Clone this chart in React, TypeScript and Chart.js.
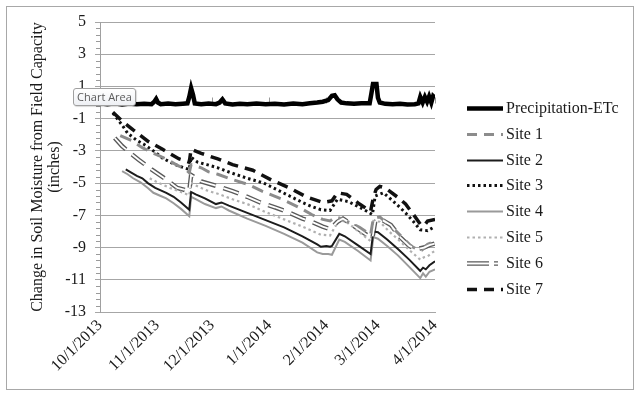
import React, { useEffect, useRef } from "react";
import { Chart, registerables } from "chart.js";

Chart.register(...registerables);

// x values are days since 10/1/2013
const monthDays = [0, 31, 61, 92, 123, 151, 182];
const monthLabels = ["10/1/2013", "11/1/2013", "12/1/2013", "1/1/2014", "2/1/2014", "3/1/2014", "4/1/2014"];
const seriesNames = ["Precipitation-ETc", "Site 1", "Site 2", "Site 3", "Site 4", "Site 5", "Site 6", "Site 7"];
const yTitle = ["Change in Soil Moisture from Field Capacity", "(inches)"];

const precipEtc: [number, number][] = [
  [0, -0.05], [4, -0.1], [8, -0.05], [12, -0.12], [16, -0.06], [20, -0.1], [24, -0.08], [28, -0.1],
  [29.5, 0.05], [30.5, 0.22], [31.5, 0.0], [33, -0.1], [37, -0.06], [41, -0.1], [45, -0.07], [47.5, -0.05],
  [48.5, 0.35], [49.5, 0.9], [50.5, 0.5], [51.5, -0.05], [55, -0.1], [59, -0.06], [63, -0.1], [65, 0.0],
  [66.5, 0.2], [68, -0.05], [72, -0.12], [76, -0.08], [80, -0.1], [85, -0.06], [90, -0.1], [95, -0.07],
  [100, -0.12], [105, -0.06], [110, -0.1], [114, -0.05], [118, 0.0], [121, 0.05], [124, 0.15], [126, 0.42],
  [127.5, 0.45], [129, 0.2], [131, 0.0], [134, -0.05], [138, -0.08], [142, -0.05], [146.5, -0.05],
  [147.5, 0.6], [148.3, 1.15], [150.2, 1.15], [151, 0.3], [152, 0.0], [155, -0.08], [159, -0.1],
  [163, -0.08], [167, -0.12], [171, -0.1], [173, -0.05], [174, 0.35], [175.3, 0.0], [176.5, 0.35],
  [177.7, 0.05], [178.8, 0.38], [180, 0.0], [181, 0.4], [182, 0.3],
];

const site1: [number, number][] = [
  [11, -2.05], [17, -2.35], [23, -2.8], [29, -3.15], [36, -3.5], [42, -3.9], [46, -4.1], [48.5, -4.35],
  [49.5, -3.85], [55, -4.05], [59, -4.3], [64, -4.45], [71, -4.75], [81, -5.1], [88, -5.5], [99, -6.0],
  [108, -6.5], [115, -6.95], [121, -7.25], [125, -7.35], [128, -7.1], [131, -7.2], [141, -7.75],
  [147, -8.2], [148.5, -7.2], [152, -7.1], [156, -7.5], [161, -8.0], [165, -8.45], [169, -8.9],
  [172, -9.1], [175, -9.15], [178, -8.8], [182, -8.6],
];

const site2: [number, number][] = [
  [14, -4.15], [17, -4.35], [20, -4.55], [23, -4.7], [26, -5.0], [30, -5.3], [33, -5.45], [36, -5.6],
  [40, -5.85], [44, -6.2], [48.5, -6.65], [49.5, -5.55], [52, -5.7], [57, -5.95], [63, -6.3], [66, -6.2],
  [70, -6.4], [80, -6.85], [90, -7.3], [100, -7.75], [110, -8.3], [118, -8.8], [120, -8.95], [123, -8.9],
  [125, -8.95], [126, -8.9], [130, -8.15], [133, -8.3], [140, -8.85], [147, -9.4], [148.5, -8.0],
  [151, -8.05], [156, -8.5], [162, -9.1], [168, -9.75], [174, -10.45], [175.5, -10.25], [177, -10.35],
  [179, -10.1], [182, -9.85],
];

const site3: [number, number][] = [
  [7, -0.65], [10, -1.1], [12, -1.4], [15, -1.9], [20, -2.35], [24, -2.6], [29, -3.0], [34, -3.45],
  [39, -3.75], [43, -3.95], [48.5, -4.15], [49.5, -3.4], [53, -3.7], [58, -3.85], [64, -4.05], [71, -4.35],
  [80, -4.7], [89, -5.0], [96, -5.4], [103, -5.8], [110, -6.2], [115, -6.45], [120, -6.65], [125, -6.7],
  [129, -6.0], [135, -6.15], [141, -6.5], [145, -6.75], [148, -6.95], [149.5, -5.8], [154, -5.6],
  [158, -6.0], [161, -6.3], [166, -6.85], [170, -7.35], [174, -7.9], [178, -7.95], [182, -7.7],
];

const site4: [number, number][] = [
  [12, -4.25], [15, -4.45], [18, -4.7], [22, -4.95], [26, -5.3], [29, -5.6], [33, -5.8], [36, -5.95],
  [40, -6.25], [44, -6.6], [48.5, -7.05], [49.5, -5.85], [52, -6.0], [57, -6.3], [63, -6.55], [66, -6.45],
  [70, -6.7], [80, -7.2], [90, -7.65], [100, -8.15], [110, -8.7], [118, -9.3], [121, -9.4], [124, -9.4],
  [126, -9.45], [130, -8.5], [133, -8.65], [140, -9.2], [147, -9.8], [148.5, -8.35], [151, -8.45],
  [156, -8.9], [162, -9.5], [168, -10.2], [174, -10.9], [175.5, -10.6], [177, -10.8], [179, -10.5],
  [182, -10.35],
];

const site5: [number, number][] = [
  [27, -4.7], [32, -5.0], [38, -5.3], [43, -5.5], [48.5, -5.75], [49.5, -5.0], [53, -5.2], [58, -5.45],
  [65, -5.7], [72, -6.0], [80, -6.3], [90, -6.8], [100, -7.25], [110, -7.7], [120, -8.2], [125, -8.25],
  [130, -7.25], [135, -7.5], [141, -8.05], [147, -8.6], [148.5, -7.35], [152, -7.4], [157, -8.0],
  [163, -8.6], [168, -9.15], [174, -9.75], [176, -9.6], [178, -9.55], [180, -9.35], [182, -9.2],
];

const site6: [number, number][] = [
  [8, -2.2], [12, -2.7], [16, -3.1], [21, -3.55], [28, -4.15], [35, -4.7], [42, -5.3], [48.5, -5.5],
  [49.5, -4.5], [55, -4.9], [64, -5.2], [72, -5.5], [80, -5.85], [87, -6.2], [95, -6.5], [101, -6.75],
  [110, -7.2], [115, -7.4], [121, -7.7], [125, -7.85], [129, -7.4], [132, -7.2], [139, -7.75],
  [146, -8.3], [148, -8.4], [149.5, -7.4], [152, -7.2], [158, -7.6], [163, -8.35], [168, -8.9],
  [172, -9.1], [176, -9.0], [179, -8.85], [182, -8.75],
];

const site7: [number, number][] = [
  [7, -0.6], [12, -1.15], [18, -1.7], [26, -2.4], [34, -2.9], [43, -3.5], [48.5, -3.7], [49.5, -2.9],
  [55, -3.15], [64, -3.5], [72, -3.85], [83, -4.2], [93, -4.8], [103, -5.3], [112, -5.85], [121, -6.2],
  [126, -6.1], [129, -5.6], [134, -5.7], [141, -6.3], [147, -6.75], [148.5, -5.9], [150, -5.4],
  [152, -5.2], [155, -5.3], [162, -5.9], [166, -6.3], [170, -6.9], [174, -7.55], [176, -7.65],
  [178, -7.35], [182, -7.25],
];

const SERIF = "'Liberation Serif', 'Times New Roman', serif";

const toPts = (a: [number, number][]) => a.map(([x, y]) => ({ x, y }));

const extrasPlugin = {
  id: "extras",
  beforeDatasetsDraw(chart: any) {
    const { ctx, scales } = chart;
    const x = scales.x;
    const y = scales.y;
    ctx.save();
    ctx.strokeStyle = "#9a9a9a";
    ctx.lineWidth = 1;
    // horizontal axis crossing at zero: its tick marks
    const y0 = Math.round(y.getPixelForValue(0)) + 0.5;
    monthDays.forEach((d) => {
      const px = Math.round(x.getPixelForValue(d)) + 0.5;
      ctx.beginPath();
      ctx.moveTo(px, y0 - 6);
      ctx.lineTo(px, y0);
      ctx.stroke();
    });
    // minor ticks on the vertical axis
    for (let k = 0; k <= 45; k++) {
      if (k % 5 === 0) continue;
      const v = -13 + k * 0.4;
      const py = Math.round(y.getPixelForValue(v)) + 0.5;
      ctx.beginPath();
      ctx.moveTo(x.left - 4, py);
      ctx.lineTo(x.left, py);
      ctx.stroke();
    }
    ctx.restore();
  },
  afterDraw(chart: any) {
    const { ctx } = chart;
    const ds = chart.data.datasets;
    const x0 = 467;
    const x1 = 503;
    ctx.save();
    seriesNames.forEach((name, i) => {
      const cy = Math.round(108 + i * 25.8) + 0.5;
      const styles = i === 6 ? [ds[6], ds[8]] : [ds[i]];
      styles.forEach((d: any) => {
        ctx.beginPath();
        ctx.strokeStyle = d.borderColor;
        ctx.lineWidth = d.borderWidth;
        ctx.setLineDash(d.legendDash || d.borderDash || []);
        ctx.lineCap = "butt";
        ctx.moveTo(x0, cy);
        ctx.lineTo(x1, cy);
        ctx.stroke();
      });
      ctx.setLineDash([]);
      ctx.fillStyle = "#1a1a1a";
      ctx.font = `16px ${SERIF}`;
      ctx.textBaseline = "middle";
      ctx.textAlign = "left";
      ctx.fillText(name, 506, cy);
    });
    ctx.restore();
  },
};

export default function App() {
  const ref = useRef<HTMLCanvasElement>(null);

  useEffect(() => {
    if (!ref.current) return;
    const line = (label: string, data: [number, number][], color: string, width: number, dash: number[], extra: any = {}) => ({
      label,
      data: toPts(data),
      borderColor: color,
      backgroundColor: color,
      borderWidth: width,
      borderDash: dash,
      pointRadius: 0,
      pointHoverRadius: 0,
      tension: 0,
      fill: false,
      order: 1,
      ...extra,
    });
    const chart = new Chart(ref.current, {
      type: "line",
      data: {
        datasets: [
          line(seriesNames[0], precipEtc, "#000000", 4.5, []),
          line(seriesNames[1], site1, "#8c8c8c", 3, [12, 7], { legendDash: [10, 7] }),
          line(seriesNames[2], site2, "#1c1c1c", 2, []),
          line(seriesNames[3], site3, "#111111", 3, [2.5, 3]),
          line(seriesNames[4], site4, "#9a9a9a", 2, []),
          line(seriesNames[5], site5, "#b0b0b0", 2.2, [2.5, 3]),
          line(seriesNames[6], site6, "#5a5a5a", 4.5, [16, 8], { legendDash: [22, 5, 4, 10] }),
          line(seriesNames[7], site7, "#111111", 3.5, [11, 7], { legendDash: [10, 7] }),
          line("Site 6 inner", site6, "#ffffff", 1.8, [16, 8], { order: 0, legendDash: [22, 5, 4, 10] }),
        ],
      },
      options: {
        animation: false,
        responsive: false,
        devicePixelRatio: 1,
        events: [],
        layout: { padding: { left: 0, right: 205, top: 22, bottom: 0 } },
        plugins: {
          legend: { display: false },
          tooltip: { enabled: false },
          title: { display: false },
        },
        scales: {
          x: {
            type: "linear",
            min: 0,
            max: 182,
            afterBuildTicks: (s: any) => {
              s.ticks = monthDays.map((v) => ({ value: v }));
            },
            afterFit: (s: any) => {
              s.height = 84;
            },
            ticks: {
              autoSkip: false,
              maxRotation: 45,
              minRotation: 45,
              padding: 4,
              color: "#1a1a1a",
              font: { family: SERIF, size: 16 },
              callback: (v: any) => {
                const i = monthDays.indexOf(Number(v));
                return i >= 0 ? monthLabels[i] : "";
              },
            },
            grid: { display: false, drawTicks: false },
            border: { display: true, color: "#a6a6a6" },
          },
          y: {
            min: -13,
            max: 5,
            afterFit: (s: any) => {
              s.width = 100;
            },
            ticks: {
              stepSize: 2,
              padding: 9,
              color: "#1a1a1a",
              font: { family: SERIF, size: 16 },
            },
            grid: { color: "#a6a6a6", lineWidth: 1, drawTicks: true, tickLength: 5 },
            border: { display: true, color: "#a0a0a0" },
            title: {
              display: true,
              text: yTitle,
              color: "#1a1a1a",
              font: { family: SERIF, size: 16, lineHeight: 1.07 },
              padding: { top: 29, bottom: 0 },
            },
          },
        },
      },
      plugins: [extrasPlugin],
    } as any);
    return () => chart.destroy();
  }, []);

  return (
    <div style={{ position: "fixed", left: 0, top: 0, width: 640, height: 396, background: "#ffffff" }}>
      <canvas ref={ref} width={640} height={396} style={{ display: "block" }} />
      <div
        style={{
          position: "absolute",
          left: 6,
          top: 6,
          width: 626,
          height: 382,
          border: "1px solid #a8a8a8",
          pointerEvents: "none",
        }}
      />
      <div
        style={{
          position: "absolute",
          left: 73,
          top: 88,
          width: 61,
          height: 16,
          border: "1px solid #a0a0a0",
          borderRadius: 3,
          background: "linear-gradient(#ffffff, #eef0f4)",
          color: "#5a5a5a",
          fontFamily: "'Open Sans', 'Noto Sans', sans-serif",
          fontSize: 11,
          lineHeight: "16px",
          textAlign: "center",
          whiteSpace: "nowrap",
          boxShadow: "1px 1px 1px rgba(0,0,0,0.15)",
        }}
      >
        Chart Area
      </div>
    </div>
  );
}
